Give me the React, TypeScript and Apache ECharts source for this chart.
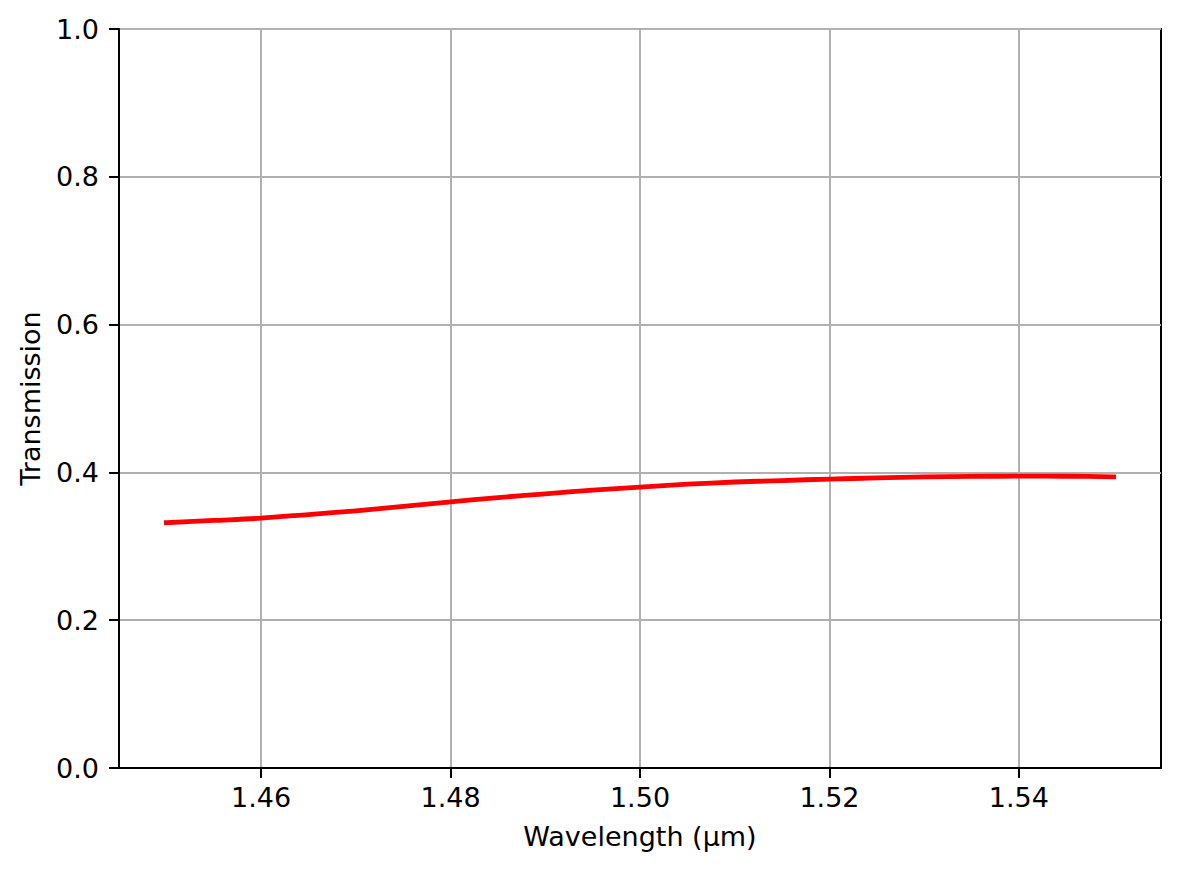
import React, { useEffect, useRef } from "react";
import * as echarts from "echarts";

const wavelengths = [
  1.45, 1.455, 1.46, 1.465, 1.47, 1.475, 1.48, 1.485, 1.49, 1.495, 1.5,
  1.505, 1.51, 1.515, 1.52, 1.525, 1.53, 1.535, 1.54, 1.545, 1.55,
];
const transmission = [
  0.332, 0.335, 0.338, 0.343, 0.348, 0.354, 0.36, 0.366, 0.371, 0.376, 0.38,
  0.384, 0.387, 0.389, 0.391, 0.3925, 0.394, 0.3945, 0.395, 0.3948, 0.394,
];
const xTicks = [1.46, 1.48, 1.5, 1.52, 1.54];
const xName = "Wavelength (µm)";
const yName = "Transmission";

const FONT = "DejaVu Sans";
const FS = 27;

export default function App() {
  const ref = useRef<HTMLDivElement>(null);
  useEffect(() => {
    if (!ref.current) return;
    const chart = echarts.init(ref.current, undefined, { renderer: "svg" });
    chart.setOption({
      animation: false,
      backgroundColor: "#ffffff",
      textStyle: { fontFamily: FONT },
      grid: {
        left: 119,
        right: 18,
        top: 29,
        bottom: 103,
        show: true,
        borderColor: "#000",
        borderWidth: 2,
        backgroundColor: "transparent",
      },
      xAxis: {
        type: "value",
        min: 1.445,
        max: 1.555,
        name: xName,
        nameLocation: "middle",
        nameGap: 55,
        nameTextStyle: { fontFamily: FONT, fontSize: FS, color: "#000" },
        axisLine: { show: true, onZero: false, lineStyle: { color: "#000", width: 2 } },
        axisTick: {
          show: true,
          length: 10,
          customValues: xTicks,
          lineStyle: { color: "#000", width: 2 },
        },
        axisLabel: {
          customValues: xTicks,
          margin: 16,
          fontFamily: FONT,
          fontSize: FS,
          color: "#000",
          formatter: (v: number) => v.toFixed(2),
        },
        splitLine: { show: true, lineStyle: { color: "#b0b0b0", width: 2 } },
      },
      yAxis: {
        type: "value",
        min: 0,
        max: 1,
        interval: 0.2,
        name: yName,
        nameLocation: "middle",
        nameRotate: 90,
        nameGap: 75,
        nameTextStyle: { fontFamily: FONT, fontSize: FS, color: "#000" },
        axisLine: { show: true, lineStyle: { color: "#000", width: 2 } },
        axisTick: { show: true, length: 10, lineStyle: { color: "#000", width: 2 } },
        axisLabel: {
          margin: 20,
          fontFamily: FONT,
          fontSize: FS,
          color: "#000",
          formatter: (v: number) => v.toFixed(1),
        },
        splitLine: { show: true, lineStyle: { color: "#b0b0b0", width: 2 } },
      },
      series: [
        {
          type: "line",
          data: wavelengths.map((w, i) => [w, transmission[i]]),
          showSymbol: false,
          smooth: 0.3,
          lineStyle: { color: "#ff0000", width: 4.8, cap: "square", join: "round" },
          itemStyle: { color: "#ff0000" },
          z: 5,
        },
      ],
    });
    return () => chart.dispose();
  }, []);
  return (
    <div
      ref={ref}
      style={{ position: "fixed", left: 0, top: 0, width: 1179, height: 871 }}
    />
  );
}
